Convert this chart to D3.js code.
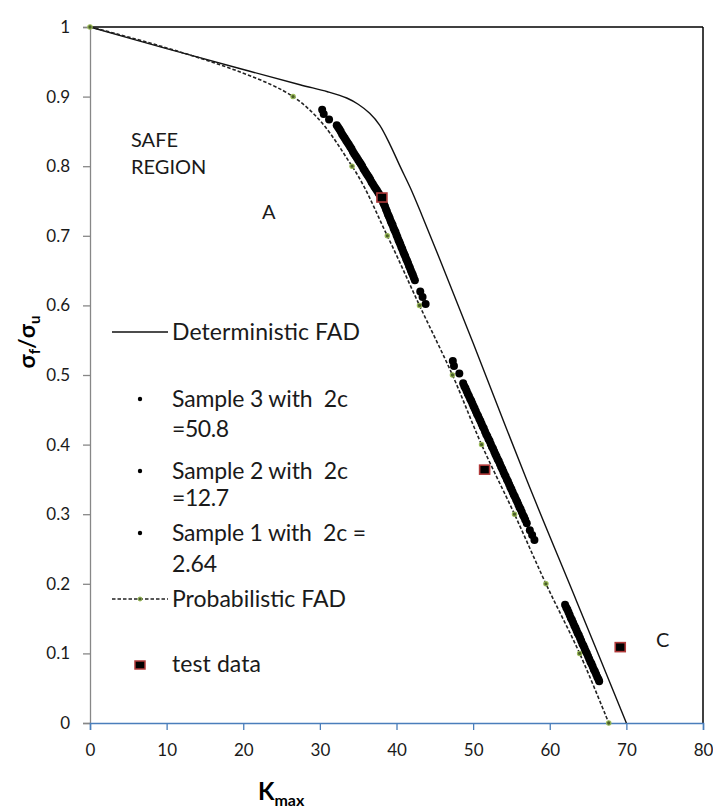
<!DOCTYPE html>
<html><head><meta charset="utf-8">
<script src="https://cdn.jsdelivr.net/npm/d3@7"></script>
<style>
body{margin:0;background:#fff;}
text{font-family:Lato,"Open Sans",sans-serif;white-space:pre;}
</style>
</head><body>
<svg id="chart" width="713" height="811"></svg>
<script>
// ---------- data ----------
const xTicks = [0, 10, 20, 30, 40, 50, 60, 70, 80];
const xTickLabels = ["0", "10", "20", "30", "40", "50", "60", "70", "80"];
const yTicks = [0, 0.1, 0.2, 0.3, 0.4, 0.5, 0.6, 0.7, 0.8, 0.9, 1];
const yTickLabels = ["0", "0.1", "0.2", "0.3", "0.4", "0.5", "0.6", "0.7", "0.8", "0.9", "1"];

// Deterministic FAD (solid)
const detK = [0, 10, 20, 27.4, 31.0, 33.5, 35.0, 36.5, 37.8, 39.2, 40.5, 41.8, 43.3, 45.7, 50.0, 57.0, 63.5, 70.0];
const detS = [1, 0.969, 0.939, 0.917, 0.907, 0.898, 0.889, 0.876, 0.859, 0.830, 0.799, 0.769, 0.730, 0.665, 0.546, 0.349, 0.175, 0];

// Probabilistic FAD (dashed with markers)
const probK = [0, 26.5, 34.2, 38.8, 43.0, 47.3, 51.1, 55.4, 59.5, 63.9, 67.7];
const probS = [1, 0.9, 0.8, 0.7, 0.6, 0.5, 0.4, 0.3, 0.2, 0.1, 0];

// Sample 1 with 2c = 2.64
const sample1K = [30.3, 30.5, 31.2,
  32.2, 32.375, 32.55, 32.725, 32.9, 33.075, 33.25, 33.425, 33.6, 33.775, 33.95, 34.125, 34.3, 34.475, 34.65, 34.825,
  35.0, 35.175, 35.35, 35.525, 35.7, 35.875, 36.05, 36.225, 36.4, 36.575, 36.75, 36.925, 37.1, 37.275, 37.45, 37.625, 37.8, 38.0,
  38.125, 38.25, 38.375, 38.5, 38.625, 38.75, 38.875, 39.0, 39.125, 39.25, 39.375, 39.5, 39.625, 39.75, 39.875, 40.0,
  40.125, 40.25, 40.375, 40.5, 40.625, 40.75, 40.875, 41.0, 41.125, 41.25, 41.375, 41.5, 41.625, 41.75, 41.875, 42.0,
  42.125, 42.25, 42.4,
  43.1, 43.4, 43.8];
const sample1S = [0.881, 0.875, 0.867,
  0.859, 0.856, 0.853, 0.850, 0.846, 0.843, 0.840, 0.837, 0.834, 0.831, 0.828, 0.825, 0.821, 0.818, 0.815, 0.812,
  0.809, 0.806, 0.803, 0.800, 0.796, 0.793, 0.790, 0.787, 0.784, 0.781, 0.777, 0.774, 0.771, 0.768, 0.765, 0.762, 0.759, 0.755,
  0.752, 0.748, 0.745, 0.742, 0.738, 0.735, 0.731, 0.728, 0.725, 0.721, 0.718, 0.715, 0.711, 0.708, 0.705, 0.701,
  0.698, 0.694, 0.691, 0.688, 0.684, 0.681, 0.677, 0.674, 0.671, 0.667, 0.664, 0.661, 0.657, 0.654, 0.650, 0.647,
  0.644, 0.640, 0.636,
  0.620, 0.612, 0.602];

// Sample 2 with 2c = 12.7
const sample2K = [47.35, 47.5, 48.2,
  48.70, 48.85, 49.00, 49.15, 49.30, 49.45, 49.60, 49.75, 49.90, 50.05, 50.20, 50.35, 50.50, 50.65, 50.80, 50.95,
  51.10, 51.25, 51.40, 51.55, 51.70, 51.85, 52.00, 52.15, 52.30, 52.45, 52.60, 52.75, 52.90, 53.05, 53.20, 53.35,
  53.50, 53.65, 53.80, 53.95, 54.10, 54.25, 54.40, 54.55, 54.70, 54.85, 55.00, 55.15, 55.30, 55.45, 55.60, 55.75,
  55.90, 56.05, 56.20, 56.35, 56.50, 56.65, 56.80, 57.00,
  57.4, 57.7, 58.0];
const sample2S = [0.520, 0.513, 0.502,
  0.488, 0.484, 0.481, 0.477, 0.473, 0.470, 0.466, 0.463, 0.459, 0.455, 0.452, 0.448, 0.444, 0.441, 0.437, 0.434,
  0.430, 0.426, 0.423, 0.419, 0.415, 0.412, 0.408, 0.405, 0.401, 0.397, 0.394, 0.390, 0.386, 0.383, 0.379, 0.376,
  0.372, 0.368, 0.365, 0.361, 0.357, 0.354, 0.350, 0.347, 0.343, 0.339, 0.336, 0.332, 0.328, 0.325, 0.321, 0.318,
  0.314, 0.310, 0.307, 0.303, 0.299, 0.296, 0.292, 0.287,
  0.277, 0.270, 0.263];

// Sample 3 with 2c = 50.8
const sample3K = [62.00, 62.15, 62.30, 62.45, 62.60, 62.75, 62.90, 63.05, 63.20, 63.35, 63.50, 63.65, 63.80, 63.95, 64.10, 64.25,
  64.40, 64.55, 64.70, 64.85, 65.00, 65.15, 65.30, 65.45, 65.60, 65.75, 65.90, 66.05, 66.20, 66.35, 66.45];
const sample3S = [0.170, 0.166, 0.163, 0.159, 0.155, 0.151, 0.148, 0.144, 0.140, 0.137, 0.133, 0.129, 0.126, 0.122, 0.118, 0.114,
  0.111, 0.107, 0.103, 0.100, 0.096, 0.092, 0.088, 0.085, 0.081, 0.077, 0.074, 0.070, 0.066, 0.063, 0.060];

// test data
const testK = [38.1, 51.5, 69.2];
const testS = [0.755, 0.364, 0.109];

// legend labels
const legendLabels = ["Deterministic FAD", "Sample 3 with  2c", "=50.8", "Sample 2 with  2c", "=12.7",
  "Sample 1 with  2c =", "2.64", "Probabilistic FAD", "test data"];

// ---------- chart ----------
const svg = d3.select("#chart");
const x = d3.scaleLinear().domain([0, 80]).range([90, 703]);
const y = d3.scaleLinear().domain([0, 1]).range([723, 27]);

// plot border (top/right)
svg.append("line").attr("x1", x(0)).attr("x2", x(80)).attr("y1", y(1)).attr("y2", y(1))
  .attr("stroke", "#000").attr("stroke-width", 1.5);
svg.append("line").attr("x1", x(80)).attr("x2", x(80)).attr("y1", y(1)).attr("y2", y(0))
  .attr("stroke", "#000").attr("stroke-width", 1.5);

// y axis
const yAxis = d3.axisLeft(y).tickValues(yTicks).tickSize(7).tickPadding(13)
  .tickFormat((d, i) => yTickLabels[i]);
const gy = svg.append("g").attr("transform", `translate(${x(0)},0)`).call(yAxis);
gy.select(".domain").attr("stroke", "#878787").attr("stroke-width", 1.3);
gy.selectAll(".tick line").attr("stroke", "#878787").attr("stroke-width", 1.3);
gy.selectAll(".tick text").attr("fill", "#1a1a1a").style("font-size", "17px").style("font-family", "Lato");

// x axis
const xAxis = d3.axisBottom(x).tickValues(xTicks).tickSize(7).tickPadding(14)
  .tickFormat((d, i) => xTickLabels[i]);
const gx = svg.append("g").attr("transform", `translate(0,${y(0)})`).call(xAxis);
gx.select(".domain").attr("stroke", "#4a7ebb").attr("stroke-width", 1.5);
gx.selectAll(".tick line").attr("stroke", "#4a7ebb").attr("stroke-width", 1.3);
gx.selectAll(".tick text").attr("fill", "#1a1a1a").style("font-size", "17px").style("font-family", "Lato");

// deterministic FAD
const detData = detK.map((k, i) => [k, detS[i]]);
svg.append("path").datum(detData)
  .attr("d", d3.line().x(d => x(d[0])).y(d => y(d[1])).curve(d3.curveCatmullRom.alpha(0.5)))
  .attr("fill", "none").attr("stroke", "#111").attr("stroke-width", 1.4);

// probabilistic FAD
const probData = probK.map((k, i) => [k, probS[i]]);
svg.append("path").datum(probData)
  .attr("d", d3.line().x(d => x(d[0])).y(d => y(d[1])).curve(d3.curveCatmullRom.alpha(0.5)))
  .attr("fill", "none").attr("stroke", "#222").attr("stroke-width", 1.6)
  .attr("stroke-dasharray", "3.5,2");
svg.selectAll("circle.pm").data(probData).enter().append("circle").attr("class", "pm")
  .attr("cx", d => x(d[0])).attr("cy", d => y(d[1])).attr("r", 2.2)
  .attr("fill", "#4b5e2a").attr("stroke", "#9bbb59").attr("stroke-width", 1.1);

// samples
const samples = [
  sample1K.map((k, i) => [k, sample1S[i]]),
  sample2K.map((k, i) => [k, sample2S[i]]),
  sample3K.map((k, i) => [k, sample3S[i]])
];
samples.forEach((s, j) => {
  svg.selectAll("circle.s" + j).data(s).enter().append("circle").attr("class", "s" + j)
    .attr("cx", d => x(d[0])).attr("cy", d => y(d[1])).attr("r", 4).attr("fill", "#000");
});

// test data
const testData = testK.map((k, i) => [k, testS[i]]);
svg.selectAll("rect.td").data(testData).enter().append("rect").attr("class", "td")
  .attr("x", d => x(d[0]) - 5).attr("y", d => y(d[1]) - 4.5).attr("width", 10).attr("height", 9)
  .attr("fill", "#000").attr("stroke", "#b03a3a").attr("stroke-width", 1.6);

// annotations
const ann = [["SAFE", 131, 147], ["REGION", 131, 174], ["A", 262, 219], ["C", 656, 647]];
ann.forEach(a => svg.append("text").attr("x", a[1]).attr("y", a[2]).text(a[0])
  .attr("fill", "#1a1a1a").style("font-size", "20px"));

// legend
const lg = svg.append("g");
lg.append("line").attr("x1", 112).attr("x2", 168).attr("y1", 332).attr("y2", 332)
  .attr("stroke", "#111").attr("stroke-width", 1.4);
const legendY = [340, 407, 437, 479, 506, 541, 572, 607, 672];
const legendW = [188, 176, 57, 176, 57, 194, 45, 174, 89];
legendLabels.forEach((t, i) => lg.append("text").attr("x", 172).attr("y", legendY[i]).text(t)
  .attr("textLength", legendW[i]).attr("lengthAdjust", "spacing")
  .attr("fill", "#1a1a1a").style("font-size", "23px"));
[399, 471, 533].forEach(cy => lg.append("circle").attr("cx", 140).attr("cy", cy).attr("r", 2.2).attr("fill", "#000"));
lg.append("line").attr("x1", 112).attr("x2", 168).attr("y1", 599).attr("y2", 599)
  .attr("stroke", "#222").attr("stroke-width", 1.6).attr("stroke-dasharray", "3.5,2");
lg.append("circle").attr("cx", 140).attr("cy", 599).attr("r", 2).attr("fill", "#4b5e2a")
  .attr("stroke", "#9bbb59").attr("stroke-width", 1);
lg.append("rect").attr("x", 135).attr("y", 661).attr("width", 10).attr("height", 8)
  .attr("fill", "#000").attr("stroke", "#b03a3a").attr("stroke-width", 1.5);

// axis titles
const yt = svg.append("text").attr("transform", "translate(35,342) rotate(-90)")
  .attr("text-anchor", "middle").style("font-weight", "bold").style("font-size", "23px").attr("fill", "#000");
yt.append("tspan").text("σ");
yt.append("tspan").text("f").style("font-size", "15px").attr("dy", 5);
yt.append("tspan").text("/σ").attr("dy", -5);
yt.append("tspan").text("u").style("font-size", "15px").attr("dy", 5);

const xt = svg.append("text").attr("x", 258).attr("y", 800)
  .style("font-weight", "bold").attr("fill", "#000");
xt.append("tspan").text("K").style("font-size", "24px");
xt.append("tspan").text("max").style("font-size", "16px").attr("dy", 6);
</script>
</body></html>
